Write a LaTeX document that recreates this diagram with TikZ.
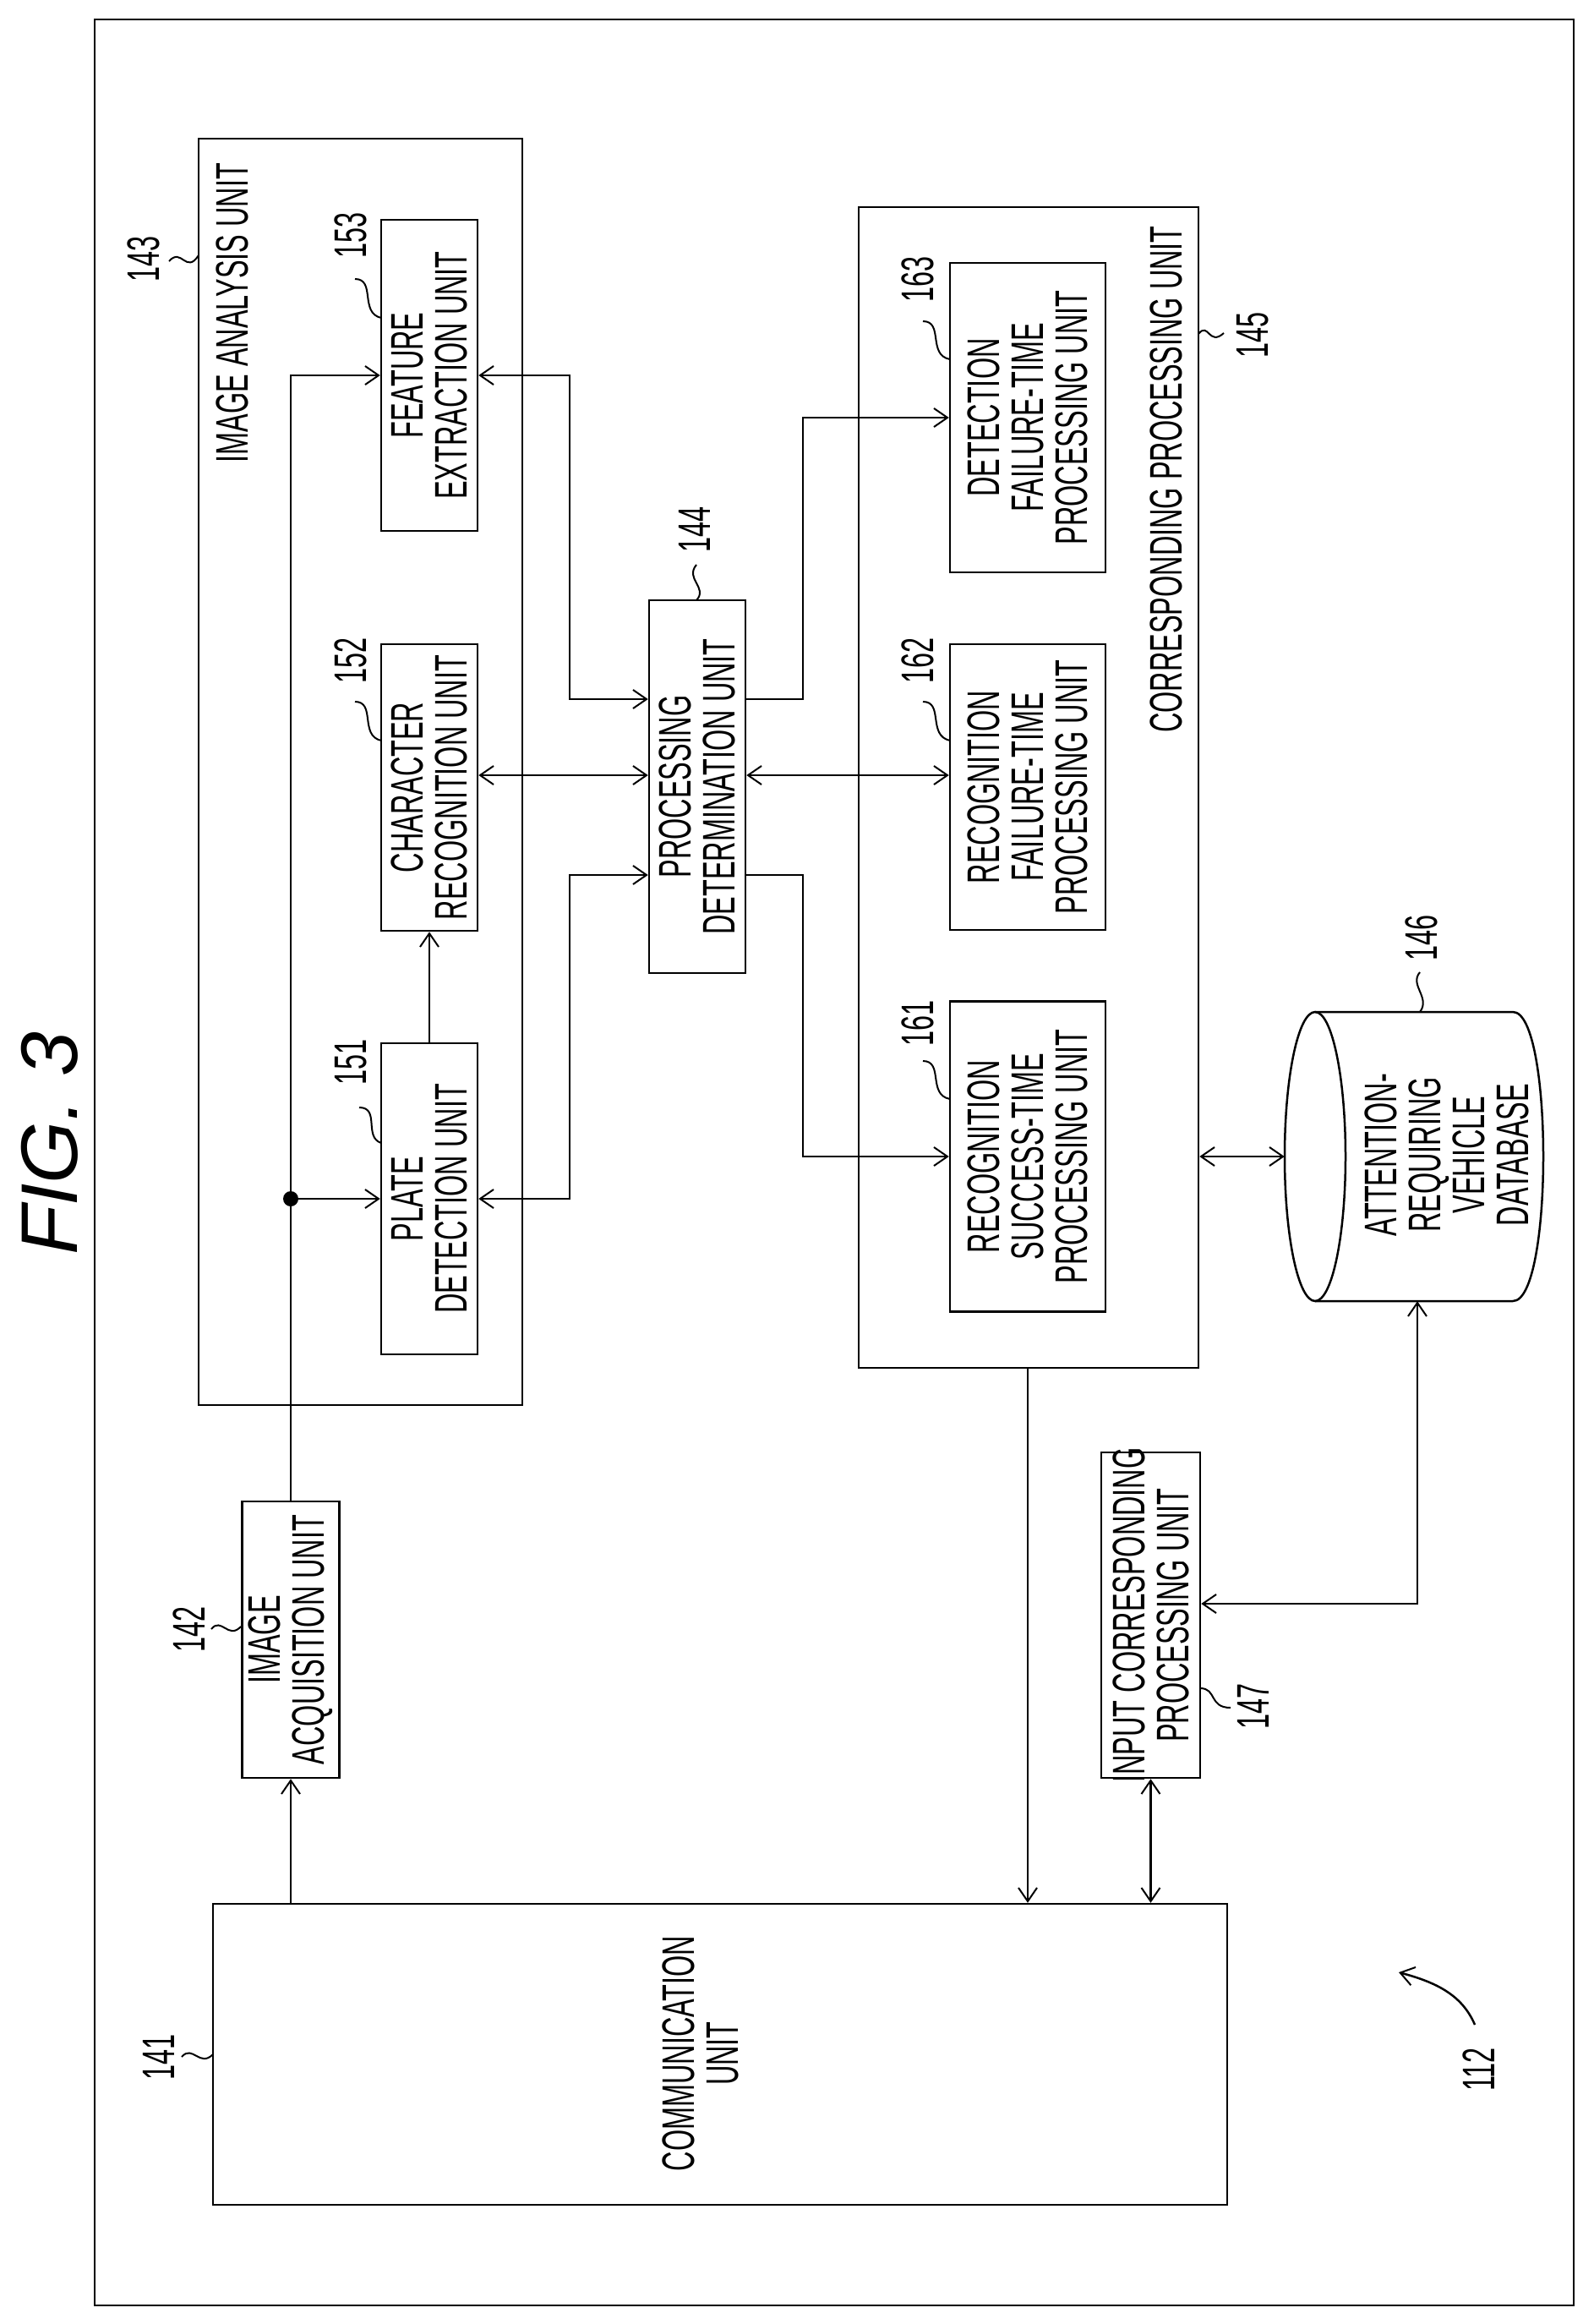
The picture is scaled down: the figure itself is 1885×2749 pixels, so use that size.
\documentclass[tikz,border=0pt]{standalone}
\usepackage{fontspec}
\setmainfont{Liberation Sans}[FakeStretch=0.6]
\newfontfamily\figfont{Liberation Sans}
\usetikzlibrary{arrows.meta}
\begin{document}
\begin{tikzpicture}[x=1pt,y=-1pt,
  box/.style={draw,line width=2.5pt,inner sep=0pt},
  lbl/.style={rotate=90,align=center,font=\fontsize{54}{52}\selectfont,inner sep=0pt},
  num/.style={rotate=90,font=\fontsize{54}{52}\selectfont,inner sep=0pt},
  ln/.style={line width=2.5pt},
  tip/.tip={Straight Barb[length=16pt,width=22pt,line width=2pt]},
  sq/.style={line width=2pt}]
\useasboundingbox (0,0) rectangle (1885,2749);
\fill[white] (0,0) rectangle (1885,2749);
% outer frame
\node[box,line width=2pt,minimum width=1750,minimum height=2704] (outer) at (987,1375) {};
\node[rotate=90,font=\figfont\itshape\fontsize{95}{100}\selectfont,inner sep=0pt] (fig) at (59,1353) {FIG. 3};
% image analysis unit
\node[box,minimum width=383,minimum height=1498] (ia) at (426.5,913) {};
\node[lbl] (ialbl) at (275,370) {IMAGE ANALYSIS UNIT};
\node[box,minimum width=114,minimum height=368] (fe) at (508,444) {};
\node[lbl] (fet) at (fe) {FEATURE\\EXTRACTION UNIT};
\node[box,minimum width=114,minimum height=339] (cr) at (508,931.5) {};
\node[lbl] (crt) at (cr) {CHARACTER\\RECOGNITION UNIT};
\node[box,minimum width=114,minimum height=368] (plate) at (508,1418) {};
\node[lbl] (platet) at (plate) {PLATE\\DETECTION UNIT};
% processing determination
\node[box,minimum width=114,minimum height=441] (pd) at (825,930.5) {};
\node[lbl] (pdt) at (pd) {PROCESSING\\DETERMINATION UNIT};
% corresponding processing unit
\node[box,minimum width=402,minimum height=1373] (cpu) at (1217,931.5) {};
\node[lbl] (cpulbl) at (1380,567) {CORRESPONDING PROCESSING UNIT};
\node[box,minimum width=184,minimum height=366] (df) at (1216,494) {};
\node[lbl] (dft) at (df) {DETECTION\\FAILURE-TIME\\PROCESSING UNIT};
\node[box,minimum width=184,minimum height=338] (rf) at (1216,931) {};
\node[lbl] (rft) at (rf) {RECOGNITION\\FAILURE-TIME\\PROCESSING UNIT};
\node[box,minimum width=184,minimum height=367] (rs) at (1216,1368) {};
\node[lbl] (rst) at (rs) {RECOGNITION\\SUCCESS-TIME\\PROCESSING UNIT};
% database cylinder
\node[minimum width=306,minimum height=342,inner sep=0pt] (db) at (1673,1368) {};
\draw[ln] (1556,1197) -- (1790,1197) .. controls (1838,1197) and (1838,1539) .. (1790,1539) -- (1556,1539);
\draw[ln] (1556,1368) ellipse [x radius=36, y radius=171];
\node[lbl] (dbt) at (1712,1366) {ATTENTION-\\REQUIRING\\VEHICLE\\DATABASE};
% lower boxes
\node[box,minimum width=115,minimum height=327] (iacq) at (344,1939.5) {};
\node[lbl] (iacqt) at (iacq) {IMAGE\\ACQUISITION UNIT};
\node[box,minimum width=117,minimum height=385] (ic) at (1361.5,1910.5) {};
\node[lbl] (ict) at (ic) {INPUT CORRESPONDING\\PROCESSING UNIT};
\node[box,minimum width=1200,minimum height=356] (comm) at (852,2430) {};
\node[lbl] (commt) at (829,2429) {COMMUNICATION\\UNIT};
% reference numerals
\node[num] (n143) at (170,306) {143};
\node[num] (n153) at (415,278) {153};
\node[num] (n152) at (415,781) {152};
\node[num] (n151) at (415,1256) {151};
\node[num] (n144) at (822,626) {144};
\node[num] (n163) at (1086,330) {163};
\node[num] (n162) at (1086,781) {162};
\node[num] (n161) at (1086,1210) {161};
\node[num] (n145) at (1482,396) {145};
\node[num] (n146) at (1682,1109) {146};
\node[num] (n147) at (1483,2018) {147};
\node[num] (n142) at (224,1927) {142};
\node[num] (n141) at (188,2433) {141};
\node[num] (n112) at (1750,2448) {112};
% leaders
\draw[sq] (200,309) .. controls (215,292) and (220,325) .. (235,302);
\draw[sq] (420,330) .. controls (445,330) and (425,370) .. (451,376);
\draw[sq] (420,830) .. controls (445,830) and (425,870) .. (451,876);
\draw[sq] (425,1310) .. controls (450,1310) and (430,1345) .. (451,1352);
\draw[sq] (824,668) .. controls (810,685) and (838,695) .. (824,710);
\draw[sq] (1092,380) .. controls (1117,380) and (1097,420) .. (1124,425);
\draw[sq] (1092,830) .. controls (1117,830) and (1097,870) .. (1124,876);
\draw[sq] (1092,1255) .. controls (1117,1255) and (1097,1295) .. (1124,1300);
\draw[sq] (1418,395) .. controls (1430,380) and (1430,410) .. (1448,394);
\draw[sq] (1680,1150) .. controls (1667,1165) and (1693,1180) .. (1680,1197);
\draw[sq] (1420,1997) .. controls (1440,1997) and (1430,2020) .. (1456,2020);
\draw[sq] (250,1927) .. controls (262,1912) and (270,1940) .. (285,1924);
\draw[sq] (215,2433) .. controls (228,2418) and (236,2446) .. (252,2430);
\draw[ln,-tip] (1745,2395) .. controls (1730,2360) and (1700,2345) .. (1655,2333);
% connectors
\draw[ln,-tip] (comm.north -| iacq.south) -- (iacq.south);
\draw[ln,-tip] (iacq.north) |- (fe.west);
\coordinate (j) at (iacq.north |- plate.west);
\fill (j) circle (9);
\draw[ln,-tip] (j) -- (plate.west);
\draw[ln,-tip] (plate.north) -- (cr.south);
\draw[ln,tip-tip] (fe.east) -- (674,444) -- (674,827) -- (pd.west |- 0,827);
\draw[ln,tip-tip] (cr.east |- 0,917) -- (pd.west |- 0,917);
\draw[ln,tip-tip] (plate.east) -- (674,1418) -- (674,1035) -- (pd.west |- 0,1035);
\draw[ln,-tip] (pd.east |- 0,827) -- (950,827) -- (950,494) -- (df.west);
\draw[ln,-tip] (pd.east |- 0,1035) -- (950,1035) -- (950,1368) -- (rs.west);
\draw[ln,tip-tip] (pd.east |- 0,917) -- (rf.west |- 0,917);
\draw[ln,tip-tip] (cpu.east |- db.west) -- (db.west);
\draw[ln,tip-tip] (db.south -| 1677,0) -- (1677,1897) -- (ic.east |- 0,1897);
\draw[ln,-tip] (cpu.south -| 1216,0) -- (comm.north -| 1216,0);
\draw[ln,tip-tip] (ic.south) -- (comm.north -| ic.south);
\end{tikzpicture}
\end{document}
